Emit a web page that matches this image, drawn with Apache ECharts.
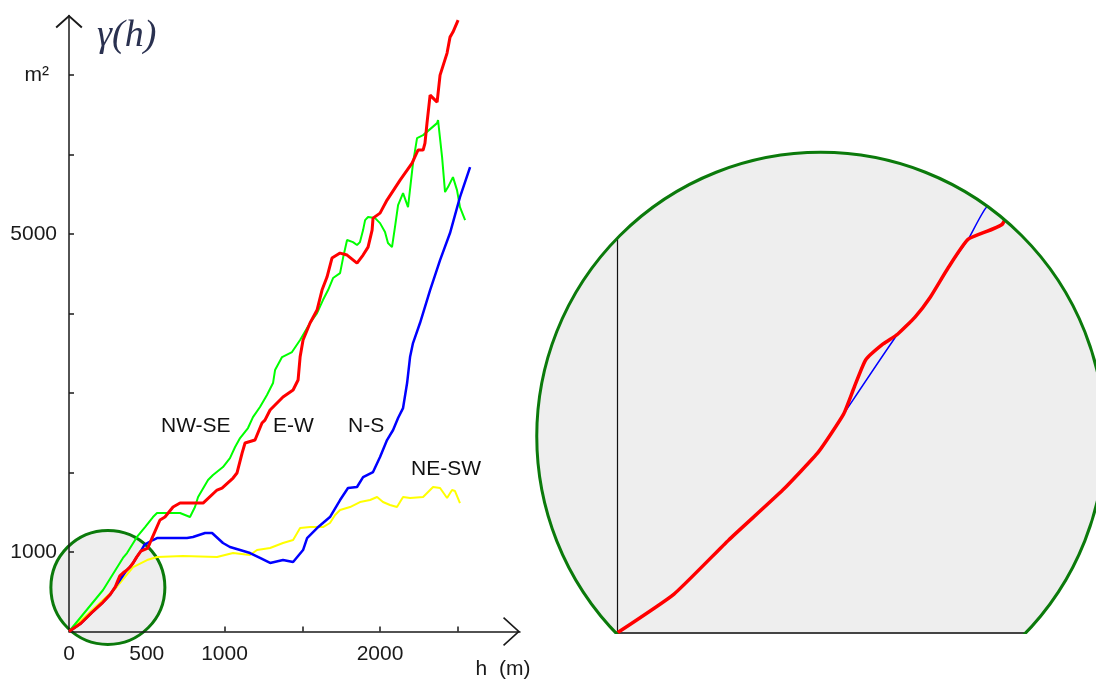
<!DOCTYPE html>
<html>
<head>
<meta charset="utf-8">
<title>variogram</title>
<script src="https://cdn.jsdelivr.net/npm/echarts@6/dist/echarts.min.js"></script>
<style>
  html, body { margin: 0; padding: 0; background: #fff; }
  #chart { width: 1096px; height: 680px; }
</style>
</head>
<body>
<div id="chart"></div>
<script>
// experimental variograms, [h (m), gamma (m2)]
var ewData = [[0,0],[75,100],[147,239],[218,367],[265,465],[298,562],[312,631],[327,701],[350,742],[369,767],[392,811],[412,862],[436,939],[462,1011],[507,1050],[534,1176],[585,1403],[617,1440],[669,1566],[714,1616],[862,1616],[952,1780],[984,1805],[1055,1931],[1080,1994],[1113,2245],[1132,2371],[1196,2409],[1241,2623],[1260,2660],[1293,2786],[1376,2950],[1441,3038],[1473,3164],[1486,3453],[1505,3667],[1550,3881],[1595,4044],[1627,4296],[1659,4459],[1691,4698],[1743,4761],[1788,4736],[1852,4635],[1891,4736],[1923,4836],[1949,5050],[1955,5201],[2000,5264],[2045,5428],[2129,5679],[2206,5893],[2244,6057],[2277,6057],[2289,6145],[2302,6396],[2322,6748],[2367,6660],[2386,7000],[2431,7277],[2450,7478],[2469,7541],[2502,7692]];
var nsData = [[0,0],[75,100],[147,239],[218,367],[265,465],[298,562],[369,767],[392,811],[412,862],[436,939],[462,1011],[486,1093],[540,1151],[566,1176],[759,1176],[797,1189],[875,1239],[920,1239],[990,1113],[1035,1063],[1100,1025],[1164,987],[1228,925],[1293,862],[1376,899],[1441,874],[1505,1025],[1531,1176],[1595,1302],[1678,1440],[1743,1654],[1794,1805],[1852,1818],[1891,1943],[1955,2006],[2000,2195],[2045,2409],[2084,2535],[2116,2686],[2148,2811],[2174,3126],[2193,3453],[2212,3629],[2257,3881],[2322,4296],[2386,4673],[2450,5013],[2514,5465],[2579,5843]];
var nwseData = [[0,0],[219,522],[347,925],[373,987],[437,1189],[489,1314],[540,1440],[566,1491],[650,1491],[714,1491],[778,1440],[810,1566],[830,1692],[894,1906],[926,1969],[990,2069],[1035,2182],[1068,2321],[1100,2434],[1151,2560],[1183,2698],[1228,2824],[1273,2975],[1312,3126],[1325,3289],[1370,3453],[1434,3516],[1486,3667],[1550,3881],[1595,4006],[1633,4170],[1666,4296],[1698,4447],[1743,4509],[1762,4698],[1788,4925],[1826,4899],[1852,4862],[1871,4899],[1891,5050],[1904,5176],[1923,5214],[1968,5201],[2000,5138],[2032,5025],[2051,4887],[2077,4836],[2096,5088],[2116,5365],[2148,5516],[2180,5340],[2212,5893],[2238,6208],[2277,6245],[2367,6396],[2373,6434],[2399,5969],[2418,5528],[2437,5591],[2469,5717],[2495,5553],[2514,5340],[2547,5176]];
var neswData = [[0,0],[298,540],[412,811],[502,899],[566,937],[733,950],[952,937],[1055,987],[1164,962],[1209,1025],[1293,1050],[1376,1113],[1441,1151],[1486,1302],[1550,1314],[1633,1314],[1678,1365],[1711,1465],[1743,1528],[1807,1566],[1871,1629],[1936,1654],[1981,1692],[2019,1629],[2064,1591],[2109,1566],[2148,1692],[2193,1679],[2277,1692],[2341,1818],[2386,1805],[2431,1679],[2463,1780],[2482,1767],[2514,1616]];

var xTicks = [1000, 1500, 2000, 2500];
var xLabels = [0, 500, 1000, 2000];
var yTicks = [1000, 2000, 3000, 4000, 5000, 6000, 7000];
var yLabels = [1000, 5000, 7000];

// where the lens sits (small one on the left chart, big one = zoomed view)
var lensCenter = [250, 555];
var zoomCenter = [268, 505];
var lensSize = 114;
var zoomRadius = 284;

var labelFont = { fontFamily: 'Liberation Sans', fontSize: 21, color: '#1a1a1a' };
var axisColor = '#1a1a1a';

var chart = echarts.init(document.getElementById('chart'));

var option = {
    animation: false,
    backgroundColor: '#fff',
    grid: [
        { left: 69, top: 15.5, right: 576, bottom: 48.5 },
        { left: 617, top: 150, right: 0, bottom: 47 }
    ],
    xAxis: [{
        type: 'value', gridIndex: 0, min: 0, max: 2900, z: 21,
        name: 'h  (m)', nameLocation: 'end', nameGap: -17,
        nameTextStyle: { fontFamily: 'Liberation Sans', fontSize: 21, color: '#1a1a1a',
                         align: 'center', verticalAlign: 'top', padding: [27, 0, 0, 0] },
        axisLine: { lineStyle: { color: axisColor, width: 1.5 },
                    symbol: ['none', 'path://M0,16 L14.5,0 L29,16 L27.8,17.1 L14.5,2.4 L1.2,17.1 Z'],
                    symbolSize: [29, 17], symbolOffset: [0, -8.5] },
        axisTick: { inside: true, length: 5, customValues: xTicks, lineStyle: { color: axisColor, width: 1.5 } },
        axisLabel: Object.assign({ margin: 12, customValues: xLabels,
                                   formatter: function (v) { return String(v); } }, labelFont),
        splitLine: { show: false }
    }, {
        type: 'value', gridIndex: 1, min: 0, max: 630, z: 1,
        axisLine: { lineStyle: { color: '#444', width: 2 } },
        axisTick: { show: false }, axisLabel: { show: false }, splitLine: { show: false }
    }],
    yAxis: [{
        type: 'value', gridIndex: 0, min: 0, max: 7750, z: 21,
        name: 'γ(h)', nameLocation: 'end', nameGap: -2,
        nameTextStyle: { fontFamily: 'Liberation Serif', fontStyle: 'italic', fontSize: 38, color: '#2a3150',
                         align: 'left', verticalAlign: 'top', padding: [0, 0, 0, 28] },
        axisLine: { lineStyle: { color: axisColor, width: 1.5 },
                    symbol: ['none', 'path://M0,12 L13.5,0 L27,12 L25.7,13.3 L13.5,2.4 L1.3,13.3 Z'],
                    symbolSize: [27, 13.3], symbolOffset: [0, -6] },
        axisTick: { inside: true, length: 5, customValues: yTicks, lineStyle: { color: axisColor, width: 1.5 } },
        axisLabel: Object.assign({
            margin: 12, customValues: yLabels,
            formatter: function (v) { return v === 7000 ? '{u|m²}' : String(v); },
            rich: { u: { fontFamily: 'Liberation Sans', fontSize: 21, color: '#1a1a1a', padding: [0, 8, 0, 0] } }
        }, labelFont),
        splitLine: { show: false }
    }, {
        type: 'value', gridIndex: 1, min: 0, max: 1240, z: 1,
        axisLine: { lineStyle: { color: '#111', width: 1.2 } },
        axisTick: { show: false }, axisLabel: { show: false }, splitLine: { show: false }
    }],
    series: [
        {   // lens on the main chart
            type: 'scatter', xAxisIndex: 0, yAxisIndex: 0, data: [lensCenter],
            symbolSize: lensSize, clip: false, silent: true, z: 20,
            itemStyle: { color: '#eeeeee', borderColor: '#0b7a0b', borderWidth: 3, opacity: 1 }
        },
        { name: 'NE-SW', type: 'line', xAxisIndex: 0, yAxisIndex: 0, data: neswData, showSymbol: false,
          lineStyle: { color: '#ffff00', width: 2 }, z: 22 },
        { name: 'NW-SE', type: 'line', xAxisIndex: 0, yAxisIndex: 0, data: nwseData, showSymbol: false,
          lineStyle: { color: '#00ff00', width: 2 }, z: 23 },
        { name: 'N-S', type: 'line', xAxisIndex: 0, yAxisIndex: 0, data: nsData, showSymbol: false,
          lineStyle: { color: '#0000ff', width: 2.5 }, z: 24 },
        { name: 'E-W', type: 'line', xAxisIndex: 0, yAxisIndex: 0, data: ewData, showSymbol: false,
          lineStyle: { color: '#ff0000', width: 3 }, z: 25 },
        // zoomed view
        { type: 'line', xAxisIndex: 1, yAxisIndex: 1, data: nsData, showSymbol: false, clip: true, smooth: 0.15,
          lineStyle: { color: '#0000ff', width: 1.5 }, z: 2 },
        { type: 'line', xAxisIndex: 1, yAxisIndex: 1, data: ewData, showSymbol: false, clip: true, smooth: 0.15,
          lineStyle: { color: '#ff0000', width: 3.5 }, z: 3 }
    ]
};
chart.setOption(option);

var c = chart.convertToPixel({ gridIndex: 1 }, zoomCenter);
var base = chart.convertToPixel({ gridIndex: 1 }, [0, 0]);
var txt = function (s, left, top) {
    return { type: 'text', left: left, top: top, z: 30, silent: true,
             style: { text: s, fontFamily: 'Liberation Sans', fontSize: 21, fill: '#111' } };
};
chart.setOption({
    graphic: [
        { type: 'circle', shape: { cx: c[0], cy: c[1], r: zoomRadius }, style: { fill: '#eeeeee' }, z: 0, silent: true },
        { type: 'ring', shape: { cx: c[0], cy: c[1], r: zoomRadius + 140, r0: zoomRadius }, style: { fill: '#fff' }, z: 10, silent: true },
        { type: 'circle', shape: { cx: c[0], cy: c[1], r: zoomRadius }, style: { fill: null, stroke: '#0b7a0b', lineWidth: 3 }, z: 11, silent: true },
        { type: 'rect', shape: { x: 535, y: base[1] + 1, width: 600, height: 80 }, style: { fill: '#fff' }, z: 12, silent: true },
        txt('NW-SE', 161, 416),
        txt('E-W', 273, 416),
        txt('N-S', 348, 416),
        txt('NE-SW', 411, 459)
    ]
});
</script>
</body>
</html>
